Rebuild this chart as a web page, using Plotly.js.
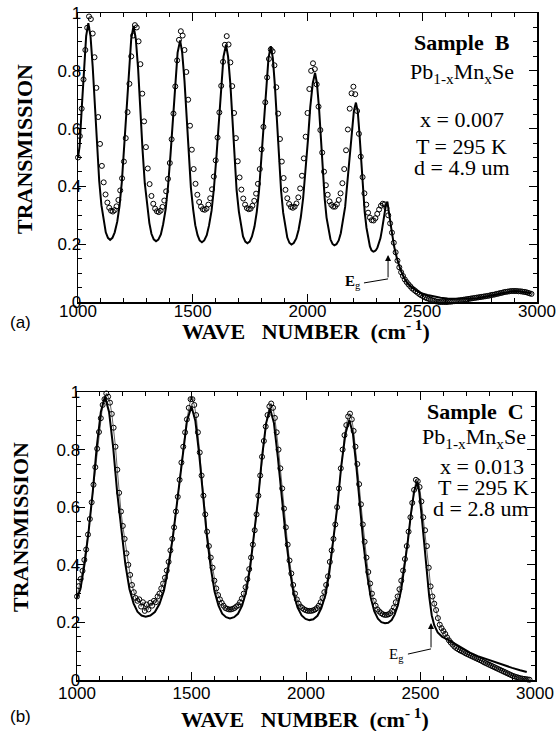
<!DOCTYPE html>
<html>
<head>
<meta charset="utf-8">
<script src="https://cdn.plot.ly/plotly-3.0.1.min.js"></script>
<style>html,body{margin:0;padding:0;background:#fff;}#chart{width:557px;height:731px;}</style>
</head>
<body>
<div id="chart"></div>
<script>
// ---------- Panel (a): Sample B ----------
// measured transmission (open circles), sampled every 8 cm-1 starting at 1000 cm-1
const sampleB_meas = [
  0.50,0.574,0.669,0.770,0.872,0.949,0.988,0.979,0.929,0.847,
  0.741,0.640,0.547,0.471,0.414,0.372,0.344,0.326,0.316,0.313,
  0.318,0.331,0.353,0.386,0.428,0.486,0.567,0.657,0.755,0.850,
  0.922,0.958,0.950,0.902,0.823,0.721,0.625,0.536,0.462,0.408,
  0.367,0.340,0.323,0.314,0.311,0.316,0.329,0.351,0.383,0.426,
  0.481,0.563,0.652,0.746,0.836,0.907,0.937,0.922,0.872,0.796,
  0.700,0.610,0.527,0.460,0.409,0.371,0.346,0.330,0.321,0.319,
  0.323,0.337,0.359,0.390,0.434,0.490,0.569,0.656,0.748,0.831,
  0.890,0.920,0.891,0.829,0.747,0.654,0.567,0.487,0.431,0.389,
  0.358,0.337,0.325,0.321,0.323,0.333,0.350,0.375,0.409,0.460,
  0.528,0.606,0.691,0.777,0.841,0.874,0.867,0.819,0.743,0.652,
  0.564,0.486,0.429,0.388,0.359,0.339,0.329,0.326,0.330,0.341,
  0.362,0.393,0.437,0.497,0.572,0.654,0.737,0.800,0.826,0.806,
  0.753,0.676,0.595,0.517,0.451,0.404,0.371,0.348,0.336,0.330,
  0.330,0.338,0.353,0.376,0.411,0.460,0.525,0.597,0.669,0.722,
  0.745,0.719,0.661,0.582,0.503,0.432,0.376,0.337,0.309,0.292,
  0.283,0.282,0.290,0.305,0.320,0.333,0.340,0.338,0.325,0.300,
  0.272,0.240,0.205,0.172,0.143,0.120,0.103,0.090,0.078,0.069,
  0.061,0.054,0.047,0.042,0.037,0.032,0.027,0.023,0.020,0.016,
  0.013,0.011,0.008,0.006,0.004,0.002,0.001,0.000,0.000,0.000,
  0.000,0.000,0.001,0.001,0.002,0.003,0.004,0.005,0.006,0.007,
  0.008,0.009,0.010,0.011,0.012,0.013,0.014,0.015,0.016,0.017,
  0.018,0.019,0.020,0.021,0.022,0.024,0.025,0.026,0.028,0.029,
  0.031,0.032,0.034,0.035,0.036,0.037,0.038,0.038,0.038,0.038,
  0.037,0.037,0.036,0.035,0.034,0.032,0.030,0.028
];
// calculated transmission (solid line)
const sampleB_calcWave = [
  1000,1007,1016.5,1026,1035.5,1045,
  1054.5,1064,1073.5,1083,1092.5,1102,1111.5,1121,1130.5,1140,
  1150,1160,1171,1181,1191,1201,1211,1222,1232,1242,
  1252,1262,1271,1281,1291,1301,1311,1320,1330,1340,
  1350,1361,1371,1382,1392,1403,1413,1424,1434,1445,
  1454,1464,1473,1483,1492,1502,1511,1521,1530,1540,
  1550,1561,1571,1582,1592,1603,1613,1624,1634,1645,
  1654,1664,1673,1682,1691,1701,1710,1719,1729,1738,
  1748,1758,1769,1779,1789,1799,1809,1820,1830,1840,
  1849,1858,1867,1876,1885,1894,1903,1912,1921,1930,
  1940,1951,1961,1971,1981,1992,2002,2012,2023,2033,
  2041,2050,2058,2067,2075,2083,2092,2100,2109,2117,
  2126,2136,2145,2154,2164,2173,2183,2192,2202,2211,
  2219,2226,2234,2241,2249,2257,2264,2272,2279,2287,
  2293,2299,2305,2311,2318,2324,2330,2336,2342,2348,
  2355,2365,2378,2390,2406,2420,2435,2451,2470,2495,2523,2550,2580,
  2610,2640,2668,2700,2740,2780,2813,2850,2885,2920,2958,2975
];
const sampleB_calc = [
  0.50,0.538,0.673,0.815,0.92,0.965,
  0.92,0.815,0.673,0.538,0.418,0.335,0.279,0.241,0.222,0.215,
  0.222,0.241,0.278,0.333,0.415,0.533,0.666,0.807,0.911,0.955,
  0.910,0.806,0.664,0.530,0.411,0.329,0.273,0.236,0.217,0.21,
  0.216,0.234,0.269,0.321,0.398,0.509,0.634,0.766,0.863,0.905,
  0.863,0.765,0.633,0.507,0.395,0.319,0.266,0.231,0.213,0.207,
  0.213,0.231,0.265,0.316,0.391,0.501,0.624,0.753,0.849,0.89,
  0.849,0.753,0.622,0.498,0.388,0.313,0.261,0.227,0.209,0.203,
  0.209,0.227,0.261,0.312,0.387,0.496,0.619,0.749,0.844,0.885,
  0.844,0.748,0.617,0.494,0.384,0.309,0.257,0.223,0.205,0.199,
  0.204,0.22,0.249,0.294,0.359,0.454,0.561,0.674,0.757,0.793,
  0.757,0.674,0.560,0.453,0.357,0.292,0.247,0.217,0.201,0.196,
  0.2,0.213,0.238,0.275,0.329,0.408,0.497,0.591,0.660,0.69,
  0.659,0.587,0.489,0.396,0.313,0.257,0.218,0.192,0.179,0.174,
  0.176,0.18,0.189,0.202,0.221,0.248,0.28,0.312,0.337,0.347,
  0.315,0.255,0.19,0.15,0.11,0.085,0.066,0.053,0.042,0.03,0.024,0.019,0.015,
  0.012,0.011,0.01,0.011,0.013,0.018,0.024,0.03,0.036,0.037,0.032,0.03
];

// ---------- Panel (b): Sample C ----------
const sampleC_meas = [
  0.29,0.326,0.351,0.379,0.417,0.453,0.505,0.559,0.617,0.678,
  0.739,0.803,0.861,0.909,0.955,0.975,0.995,0.984,0.963,0.924,
  0.876,0.81,0.73,0.65,0.585,0.535,0.49,0.44,0.40,0.365,
  0.33,0.305,0.285,0.275,0.28,0.255,0.27,0.24,0.262,0.245,
  0.268,0.258,0.275,0.27,0.29,0.30,0.318,0.335,0.355,0.38,
  0.41,0.45,0.49,0.53,0.585,0.636,0.695,0.755,0.81,0.86,
  0.905,0.945,0.975,0.975,0.955,0.92,0.86,0.79,0.71,0.64,
  0.575,0.515,0.465,0.425,0.39,0.345,0.318,0.295,0.28,0.268,
  0.258,0.25,0.247,0.245,0.245,0.247,0.25,0.255,0.26,0.27,
  0.283,0.30,0.322,0.35,0.385,0.425,0.47,0.52,0.575,0.64,
  0.71,0.775,0.83,0.88,0.92,0.95,0.96,0.945,0.91,0.86,
  0.80,0.735,0.665,0.595,0.53,0.47,0.415,0.37,0.33,0.30,
  0.28,0.265,0.255,0.25,0.245,0.242,0.24,0.24,0.24,0.242,
  0.245,0.25,0.258,0.27,0.285,0.305,0.33,0.36,0.41,0.45,
  0.49,0.54,0.60,0.665,0.735,0.80,0.85,0.885,0.915,0.925,
  0.905,0.865,0.81,0.75,0.68,0.61,0.54,0.48,0.425,0.375,
  0.335,0.30,0.275,0.258,0.245,0.238,0.232,0.228,0.226,0.226,
  0.228,0.232,0.24,0.252,0.27,0.29,0.315,0.345,0.38,0.42,
  0.465,0.515,0.565,0.615,0.66,0.695,0.69,0.67,0.62,0.565,
  0.52,0.465,0.39,0.325,0.29,0.265,0.243,0.215,0.192,0.18,
  0.17,0.16,0.148,0.138,0.13,0.123,0.116,0.111,0.107,0.103,
  0.10,0.097,0.093,0.09,0.087,0.084,0.081,0.078,0.075,0.072,
  0.069,0.066,0.062,0.059,0.056,0.053,0.05,0.047,0.044,0.041,
  0.038,0.035,0.032,0.029,0.026,0.023,0.02,0.017,0.014,0.012,
  0.01,0.008,0.006,0.005,0.004,0.003,0.002,0.001
];
const sampleC_calcWave = [
  1000,1015,1033,1051,1069,1086,1104,1122,
  1140,1158,1175,1193,1211,1229,1247,1264,1282,1300,
  1320,1340,1360,1380,1400,1420,1440,1460,1480,1500,
  1517,1534,1550,1567,1584,1601,1618,1634,1651,1668,
  1686,1703,1721,1738,1756,1773,1791,1808,1826,1843,
  1860,1877,1895,1912,1929,1946,1963,1981,1998,2015,
  2032,2050,2067,2085,2102,2119,2137,2154,2172,2189,
  2205,2220,2236,2251,2267,2283,2298,2314,2329,2345,
  2359,2374,2387,2401,2416,2430,2444,2458,2472,2486,
  2495,2505,2515,2527,2538,2549,2560,2575,2595,2620,2650,2680,2716,
  2750,2789,2825,2862,2900,2935,2964
];
const sampleC_calc = [
  0.284,0.316,0.403,0.518,0.655,0.808,0.931,0.984,
  0.931,0.808,0.655,0.518,0.403,0.316,0.266,0.237,0.224,0.22,
  0.224,0.236,0.264,0.311,0.395,0.505,0.636,0.782,0.899,0.95,
  0.899,0.781,0.634,0.501,0.391,0.306,0.258,0.230,0.218,0.214,
  0.218,0.23,0.258,0.305,0.389,0.498,0.630,0.775,0.892,0.943,
  0.892,0.774,0.627,0.495,0.384,0.3,0.252,0.224,0.212,0.208,
  0.211,0.223,0.25,0.295,0.375,0.479,0.604,0.743,0.854,0.903,
  0.854,0.741,0.599,0.472,0.366,0.285,0.239,0.213,0.201,0.197,
  0.199,0.208,0.227,0.259,0.315,0.389,0.477,0.576,0.655,0.689,
  0.65,0.57,0.48,0.38,0.29,0.225,0.19,0.165,0.15,0.14,0.125,0.11,0.095,
  0.083,0.072,0.062,0.052,0.042,0.034,0.028
];

const xTickStart = 1000, xTickEnd = 3000;
const panelLabels = ['(a)', '(b)'];
const sampleNames = ['Sample\u00a0\u00a0B', 'Sample\u00a0\u00a0C'];
const compositions = ['x = 0.007', 'x = 0.013'];
const thicknesses = ['d = 4.9 um', 'd = 2.8 um'];

// ---------- styling ----------
const W = 557, H = 731;
const SERIF = 'Liberation Serif, Times New Roman, serif';
const SANS = 'Liberation Sans, Arial, Helvetica, sans-serif';
const px = v => v / W;
const py = v => 1 - v / H;

function xax(dom, anchor, standoff) {
  return {
    domain: dom, anchor: anchor, range: [xTickStart, xTickEnd],
    tick0: 1000, dtick: 500, ticks: 'inside', ticklen: 8, tickwidth: 1, tickcolor: '#000',
    showline: true, linewidth: 1.5, linecolor: '#000', mirror: 'ticks',
    showgrid: false, zeroline: false,
    minor: {dtick: 100, ticks: 'inside', ticklen: 4, tickwidth: 1, tickcolor: '#000', showgrid: false},
    tickfont: {family: SANS, size: 17, color: '#000'}, ticklabelstandoff: standoff
  };
}
function yax(dom, anchor) {
  return {
    domain: dom, anchor: anchor, range: [0, 1],
    tick0: 0, dtick: 0.2, ticks: 'inside', ticklen: 8, tickwidth: 1, tickcolor: '#000',
    showline: true, linewidth: 1.5, linecolor: '#000', mirror: 'ticks',
    showgrid: false, zeroline: false,
    minor: {dtick: 0.05, ticks: 'inside', ticklen: 4, tickwidth: 1, tickcolor: '#000', showgrid: false},
    tickfont: {family: SANS, size: 17, color: '#000'}, ticklabelstandoff: -8
  };
}

const traces = [
  {x: sampleB_calcWave, y: sampleB_calc, xaxis: 'x', yaxis: 'y', mode: 'lines',
   line: {color: '#000', width: 2}, cliponaxis: false},
  {y: sampleB_meas, x0: 1000, dx: 8, xaxis: 'x', yaxis: 'y', mode: 'markers',
   marker: {symbol: 'circle-open', size: 5, color: '#000', line: {width: 1, color: '#000'}}, cliponaxis: false},
  {x: sampleC_calcWave, y: sampleC_calc, xaxis: 'x2', yaxis: 'y2', mode: 'lines',
   line: {color: '#000', width: 2}, cliponaxis: false},
  {y: sampleC_meas, x0: 1000, dx: 8, xaxis: 'x2', yaxis: 'y2', mode: 'lines+markers',
   line: {color: '#000', width: 0.6},
   marker: {symbol: 'circle-open', size: 5, color: '#000', line: {width: 1, color: '#000'}}, cliponaxis: false}
];

function txt(text, x, y, opt) {
  return Object.assign({text: text, x: x, y: y, xref: 'paper', yref: 'paper', showarrow: false,
    xanchor: 'center', yanchor: 'middle', font: {family: SERIF, size: 22, color: '#000'}}, opt || {});
}

const annotations = [
  // axis titles
  txt('<b>TRANSMISSION</b>', px(24), py(149), {textangle: -90}),
  txt('<b>TRANSMISSION</b>', px(20), py(527), {textangle: -90}),
  txt('<b>WAVE\u00a0\u00a0\u00a0NUMBER\u00a0\u00a0(cm<sup>-\u00a01</sup>)</b>', px(306), py(330), {font: {family: SERIF, size: 22, color: '#000'}}),
  txt('<b>WAVE\u00a0\u00a0\u00a0NUMBER\u00a0\u00a0(cm<sup>-\u00a01</sup>)</b>', px(305), py(718), {font: {family: SERIF, size: 22, color: '#000'}}),
  // panel labels
  txt(panelLabels[0], px(8), py(322), {xanchor: 'left', font: {family: SANS, size: 17, color: '#000'}}),
  txt(panelLabels[1], px(8), py(716), {xanchor: 'left', font: {family: SANS, size: 17, color: '#000'}}),
  // panel (a) legend text
  {text: '<b>' + sampleNames[0] + '</b>', xref: 'x', yref: 'y', x: 2673, y: 0.899, showarrow: false, font: {family: SERIF, size: 22, color: '#000'}},
  {text: 'Pb<sub>1-x</sub>Mn<sub>x</sub>Se', xref: 'x', yref: 'y', x: 2673, y: 0.793, showarrow: false, font: {family: SERIF, size: 22, color: '#000'}},
  {text: compositions[0], xref: 'x', yref: 'y', x: 2673, y: 0.63, showarrow: false, font: {family: SERIF, size: 22, color: '#000'}},
  {text: 'T = 295 K', xref: 'x', yref: 'y', x: 2673, y: 0.537, showarrow: false, font: {family: SERIF, size: 22, color: '#000'}},
  {text: thicknesses[0], xref: 'x', yref: 'y', x: 2673, y: 0.464, showarrow: false, font: {family: SERIF, size: 22, color: '#000'}},
  // panel (b) legend text
  {text: '<b>' + sampleNames[1] + '</b>', xref: 'x2', yref: 'y2', x: 2960, y: 0.932, xanchor: 'right', showarrow: false, font: {family: SERIF, size: 22, color: '#000'}},
  {text: 'Pb<sub>1-x</sub>Mn<sub>x</sub>Se', xref: 'x2', yref: 'y2', x: 2968, y: 0.84, xanchor: 'right', showarrow: false, font: {family: SERIF, size: 22, color: '#000'}},
  {text: compositions[1], xref: 'x2', yref: 'y2', x: 2962, y: 0.74, xanchor: 'right', showarrow: false, font: {family: SERIF, size: 22, color: '#000'}},
  {text: 'T = 295 K', xref: 'x2', yref: 'y2', x: 2982, y: 0.667, xanchor: 'right', showarrow: false, font: {family: SERIF, size: 22, color: '#000'}},
  {text: thicknesses[1], xref: 'x2', yref: 'y2', x: 2982, y: 0.597, xanchor: 'right', showarrow: false, font: {family: SERIF, size: 22, color: '#000'}},
  // band-gap markers
  {text: '<b>E</b><sub>g</sub>', xref: 'x', yref: 'y', x: 2200, y: 0.07, showarrow: false, font: {family: SERIF, size: 15, color: '#000'}},
  {text: '', xref: 'x', yref: 'y', axref: 'x', ayref: 'y', x: 2351, y: 0.163, ax: 2351, ay: 0.08,
   showarrow: true, arrowhead: 2, arrowsize: 1.2, arrowwidth: 1, arrowcolor: '#000'},
  {text: 'E<sub>g</sub>', xref: 'x2', yref: 'y2', x: 2393, y: 0.087, showarrow: false, font: {family: SERIF, size: 15, color: '#000'}},
  {text: '', xref: 'x2', yref: 'y2', axref: 'x2', ayref: 'y2', x: 2546, y: 0.198, ax: 2546, ay: 0.108,
   showarrow: true, arrowhead: 2, arrowsize: 1.2, arrowwidth: 1, arrowcolor: '#000'}
];

const shapes = [
  {type: 'line', xref: 'x', yref: 'y', x0: 2246, y0: 0.066, x1: 2351, y1: 0.08, line: {color: '#000', width: 1}},
  {type: 'line', xref: 'x2', yref: 'y2', x0: 2445, y0: 0.09, x1: 2546, y1: 0.108, line: {color: '#000', width: 1}}
];

const layout = {
  width: W, height: H,
  margin: {l: 0, r: 0, t: 0, b: 0, pad: 0},
  paper_bgcolor: '#fff', plot_bgcolor: '#fff',
  showlegend: false,
  xaxis: xax([px(78), px(537)], 'y', -7),
  yaxis: yax([py(302), py(13)], 'x'),
  xaxis2: xax([px(77), px(535)], 'y2', -3),
  yaxis2: yax([py(680), py(392)], 'x2'),
  annotations: annotations,
  shapes: shapes
};

Plotly.newPlot('chart', traces, layout, {displayModeBar: false, staticPlot: true});
</script>
</body>
</html>
